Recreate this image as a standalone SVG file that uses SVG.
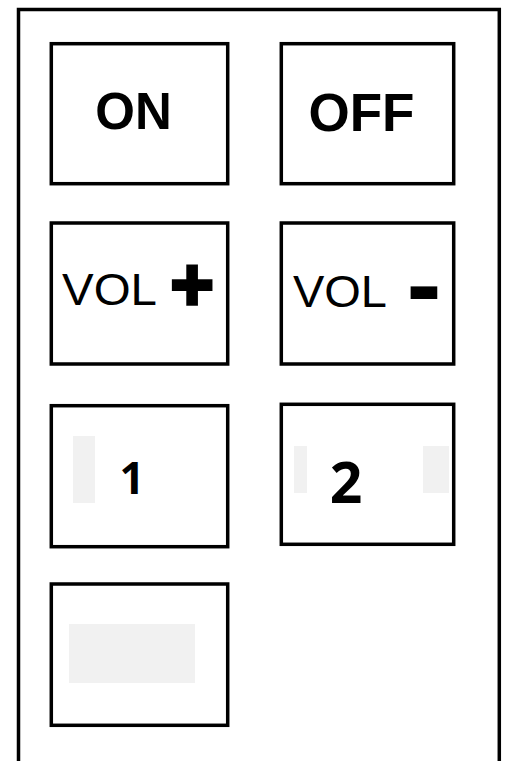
<svg xmlns="http://www.w3.org/2000/svg" width="506" height="761" viewBox="0 0 506 761">
<style>
.btn{fill:none;stroke:#000;stroke-width:3.5}
.frame{fill:none;stroke:#000;stroke-width:3.5}
.lbl{font-family:"Liberation Sans",Arial,sans-serif;fill:#000}
.b{font-weight:bold}
.num{font-family:"Open Sans","Noto Sans",sans-serif;font-weight:bold;fill:#000;text-anchor:middle}
.blank{fill:#f1f1f1}
</style>
<rect width="506" height="761" fill="#fff"/>
<path class="frame" d="M18.5,765 V9.5 H499.3 V765"/>
<g id="on">
<rect class="btn" x="51.3" y="43.7" width="176.4" height="140"/>
<text class="lbl b" x="133.5" y="129" font-size="51" text-anchor="middle">ON</text>
</g>
<g id="off">
<rect class="btn" x="281.3" y="43.7" width="172.4" height="140"/>
<text class="lbl b" x="361.5" y="131" font-size="53" text-anchor="middle">OFF</text>
</g>
<g id="volplus">
<rect class="btn" x="51.3" y="223" width="176.4" height="141"/>
<text class="lbl" x="62" y="305" font-size="45" textLength="95" lengthAdjust="spacingAndGlyphs">VOL</text>
<text class="lbl b" x="192" y="310" font-size="74" text-anchor="middle" stroke="#000" stroke-width="3.5">+</text>
</g>
<g id="volminus">
<rect class="btn" x="281.3" y="223" width="172.4" height="141"/>
<text class="lbl" x="293" y="307" font-size="45" textLength="94" lengthAdjust="spacingAndGlyphs">VOL</text>
<text class="lbl b" x="424" y="320" font-size="105" text-anchor="middle">-</text>
</g>
<g id="btn1">
<rect class="btn" x="51.3" y="405.7" width="176.4" height="141"/>
<rect class="blank" x="73" y="436" width="22" height="67"/>
<text class="num" x="132" y="494" font-size="44">1</text>
</g>
<g id="btn2">
<rect class="btn" x="281.3" y="404.3" width="172.4" height="140"/>
<rect class="blank" x="294" y="446" width="13" height="47"/>
<rect class="blank" x="423" y="446" width="26" height="47"/>
<text class="num" x="346" y="503" font-size="57">2</text>
</g>
<g id="btn5">
<rect class="btn" x="51.3" y="584" width="176.4" height="141.3"/>
<rect class="blank" x="69" y="624" width="126" height="59"/>
</g>
<g id="connectors"/>
</svg>
